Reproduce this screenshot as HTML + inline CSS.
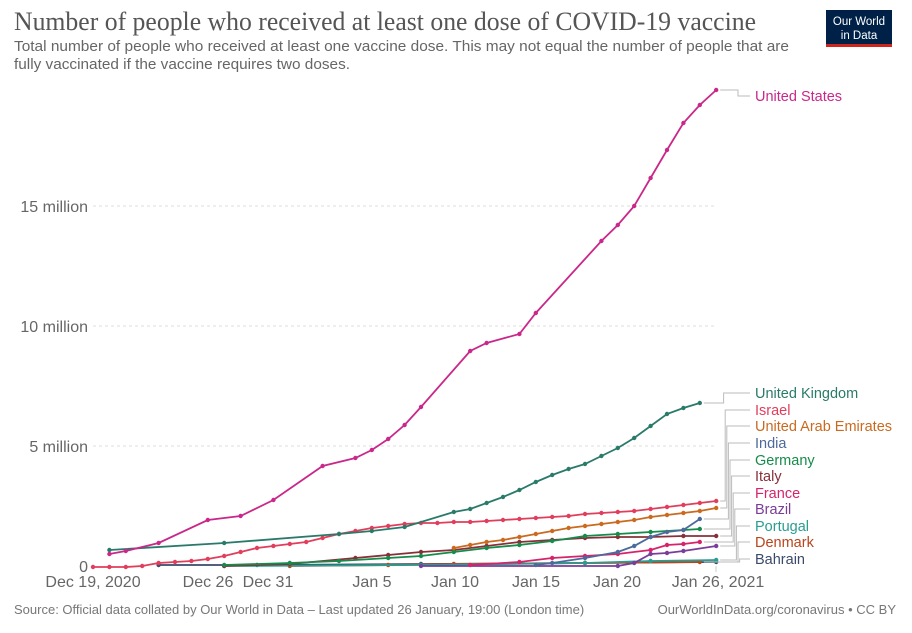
<!DOCTYPE html>
<html><head><meta charset="utf-8"><style>
body{margin:0;background:#fff;width:912px;height:628px;overflow:hidden;font-family:"Liberation Sans",sans-serif}
svg text{font-family:"Liberation Sans",sans-serif}
</style></head><body>
<svg id="s" width="912" height="628" viewBox="0 0 912 628" xmlns="http://www.w3.org/2000/svg">
<text x="14" y="30" font-size="26" fill="#555" style="font-family:'Liberation Serif',serif" textLength="742" lengthAdjust="spacingAndGlyphs">Number of people who received at least one dose of COVID-19 vaccine</text>
<text x="14" y="51" font-size="15" fill="#666" textLength="775" lengthAdjust="spacingAndGlyphs">Total number of people who received at least one vaccine dose. This may not equal the number of people that are</text>
<text x="14" y="69" font-size="15" fill="#666" textLength="336" lengthAdjust="spacingAndGlyphs">fully vaccinated if the vaccine requires two doses.</text>
<rect x="826" y="10" width="66" height="37" fill="#002147"/>
<rect x="826" y="44" width="66" height="3" fill="#ce261e"/>
<text x="859" y="25" font-size="11.5" fill="#fff" text-anchor="middle">Our World</text>
<text x="859" y="39" font-size="11.5" fill="#fff" text-anchor="middle">in Data</text>
<g stroke="#ddd" stroke-dasharray="3,3">
<line x1="93" x2="716" y1="446" y2="446"/><line x1="93" x2="716" y1="326" y2="326"/><line x1="93" x2="716" y1="206" y2="206"/>
</g>
<g font-size="16" fill="#666" text-anchor="end">
<text x="88" y="572">0</text><text x="88" y="452">5 million</text><text x="88" y="332">10 million</text><text x="88" y="212">15 million</text>
</g>
<g font-size="16" fill="#666" text-anchor="middle">
<text x="93" y="587">Dec 19, 2020</text><text x="208" y="587">Dec 26</text><text x="268" y="587">Dec 31</text><text x="372" y="587">Jan 5</text><text x="455" y="587">Jan 10</text><text x="536" y="587">Jan 15</text><text x="617" y="587">Jan 20</text><text x="718" y="587">Jan 26, 2021</text>
</g>
<line x1="716" x2="716" y1="566" y2="572" stroke="#ccc"/>
<g id="lines" fill="none" stroke-width="1.8"></g>
<g id="leg" font-size="14.5"></g>
<text x="14" y="614" font-size="13" fill="#777">Source: Official data collated by Our World in Data – Last updated 26 January, 19:00 (London time)</text>
<text x="896" y="614" font-size="13" fill="#777" text-anchor="end">OurWorldInData.org/coronavirus • CC BY</text>
</svg>
<script>
function X(d){return 93+d*16.4}
var series=[
["#3b4a6b",[[4,565],[10,565],[20,564],[30,563],[38,562]],"Bahrain",559],
["#b8451b",[[12,566],[18,565],[22,564],[30,563],[37,562]],"Denmark",542],
["#2a9d8f",[[8,566],[20,565],[30,563],[34,561],[38,560]],"Portugal",526],
["#7a3d9a",[[20,566],[32,566],[33,563],[34,554],[35,553],[36,551],[38,546]],"Brazil",509],
["#d6246b",[[23,565],[26,562],[28,558],[30,556],[32,554],[34,550],[35,545],[36,544],[37,542]],"France",493],
["#883039",[[8,566],[12,564],[16,558],[18,555],[20,552],[22,550],[24,546],[26,542],[28,540],[30,538],[32,537],[34,537],[36,536],[38,536]],"Italy",476],
["#168c4b",[[8,565],[12,563],[15,561],[18,558],[20,556],[22,552],[24,548],[26,545],[28,541],[30,536],[32,534],[34,532],[36,530],[37,529]],"Germany",460],
["#4c6a9c",[[27,565],[28,563],[30,558],[32,552],[33,546],[34,537],[35,532],[36,530],[37,519]],"India",443],
["#c96a1f",[[22,548],[23,545],[24,542],[25,540],[26,537],[27,534],[28,531],[29,528],[30,526],[31,524],[32,522],[33,520],[34,517],[35,515],[36,513],[37,511],[38,508]],"United Arab Emirates",426],
["#e03e5c",[[0,567],[1,567],[2,567],[3,566],[4,563],[5,562],[6,561],[7,559],[8,556],[9,552],[10,548],[11,546],[12,544],[13,542],[14,538],[15,534],[16,531],[17,528],[18,526],[19,524],[20,523],[21,523],[22,522],[23,522],[24,521],[25,520],[26,519],[27,518],[28,517],[29,516],[30,514],[31,513],[32,512],[33,511],[34,509],[35,507],[36,505],[37,503],[38,501]],"Israel",410],
["#2a7a6a",[[1,550],[8,543],[15,534],[17,531],[19,527],[22,512],[23,509],[24,503],[25,497],[26,490],[27,482],[28,475],[29,469],[30,464],[31,456],[32,448],[33,438],[34,426],[35,414],[36,408],[37,403]],"United Kingdom",393],
["#c9288a",[[1,554],[2,551],[4,543],[7,520],[9,516],[11,500],[14,466],[16,458],[17,450],[18,439],[19,425],[20,407],[23,351],[24,343],[26,334],[27,313],[31,241],[32,225],[33,206],[34,178],[35,150],[36,123],[37,105],[38,90]],"United States",96]
];
var g=document.getElementById('lines'),lg=document.getElementById('leg'),ns="http://www.w3.org/2000/svg";
series.forEach(function(s,i){
 var p=document.createElementNS(ns,'polyline');
 p.setAttribute('points',s[1].map(function(q){return X(q[0])+','+q[1]}).join(' '));
 p.setAttribute('stroke',s[0]);g.appendChild(p);
 s[1].forEach(function(q){var c=document.createElementNS(ns,'circle');c.setAttribute('cx',X(q[0]));c.setAttribute('cy',q[1]);c.setAttribute('r',2.2);c.setAttribute('fill',s[0]);g.appendChild(c);});
 var last=s[1][s[1].length-1],lx=X(last[0])+4,ly=last[1],ty=s[3];
 var bx=722+ (series.length-1-i)*1.6; if(s[2]=="United States")bx=738;
 var l=document.createElementNS(ns,'polyline');
 l.setAttribute('points',lx+','+ly+' '+bx+','+ly+' '+bx+','+ty+' 750,'+ty);
 l.setAttribute('stroke','#bbb');l.setAttribute('fill','none');l.setAttribute('stroke-width','1');lg.appendChild(l);
 var t=document.createElementNS(ns,'text');t.setAttribute('x',755);t.setAttribute('y',s[3]+5);t.setAttribute('fill',s[0]);t.textContent=s[2];lg.appendChild(t);
});
</script>
</body></html>
